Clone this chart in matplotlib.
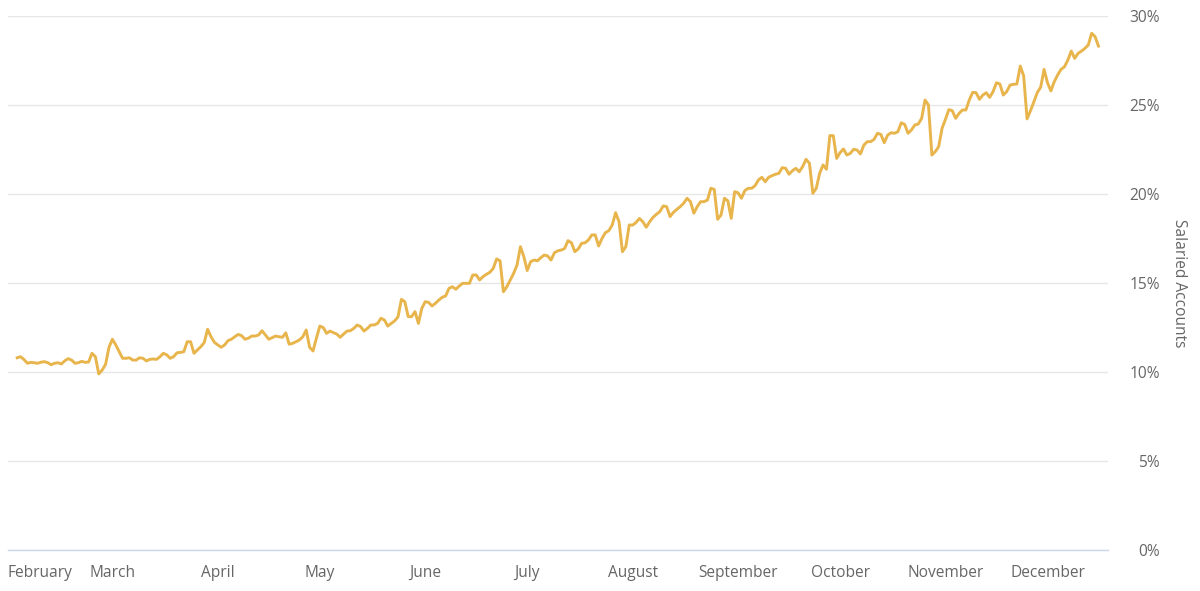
import matplotlib
matplotlib.use("Agg")
import matplotlib.pyplot as plt
import matplotlib.dates as mdates
import pandas as pd

start_date = "2021-02-01"

feb = [10.8, 10.86, 10.7, 10.49, 10.54, 10.52, 10.49, 10.55, 10.58, 10.52, 10.41, 10.49, 10.52, 10.45,
       10.63, 10.75, 10.67, 10.49, 10.52, 10.6, 10.54, 10.56, 11.05, 10.86, 9.89, 10.11, 10.43, 11.39]
mar = [11.84, 11.52, 11.14, 10.77, 10.77, 10.80, 10.67, 10.67, 10.8, 10.77, 10.62, 10.71, 10.73, 10.71,
       10.86, 11.05, 10.96, 10.77, 10.86, 11.08, 11.1, 11.14, 11.7, 11.7, 11.05, 11.24, 11.42, 11.65,
       12.4, 11.98, 11.67]
apr = [11.52, 11.39, 11.52, 11.76, 11.84, 11.98, 12.11, 12.04, 11.84, 11.9, 12.02, 12.02, 12.08, 12.32,
       12.08, 11.84, 11.93, 12.02, 11.98, 11.95, 12.2, 11.56, 11.61, 11.7, 11.8, 11.98, 12.36, 11.39,
       11.18, 11.9]
may = [12.58, 12.5, 12.17, 12.3, 12.21, 12.13, 11.95, 12.13, 12.3, 12.32, 12.45, 12.64, 12.55, 12.3,
       12.45, 12.64, 12.64, 12.73, 13.02, 12.92, 12.58, 12.73, 12.87, 13.1, 14.08, 13.95, 13.11, 13.11,
       13.39, 12.73, 13.58]
jun = [13.95, 13.91, 13.71, 13.86, 14.04, 14.2, 14.27, 14.7, 14.79, 14.65, 14.83, 14.98, 14.98, 14.98,
       15.45, 15.45, 15.17, 15.36, 15.49, 15.6, 15.82, 16.35, 16.25, 14.51, 14.79, 15.17, 15.54, 16.01,
       17.04, 16.48]
jul = [15.7, 16.2, 16.29, 16.25, 16.42, 16.57, 16.52, 16.29, 16.7, 16.81, 16.85, 16.94, 17.38, 17.26,
       16.76, 16.91, 17.23, 17.26, 17.42, 17.7, 17.7, 17.08, 17.51, 17.83, 17.94, 18.26, 18.95, 18.44,
       16.76, 17.04, 18.26]
aug = [18.25, 18.4, 18.63, 18.44, 18.13, 18.44, 18.69, 18.86, 19.01, 19.33, 19.29, 18.73, 18.97, 19.14,
       19.29, 19.48, 19.76, 19.57, 18.92, 19.29, 19.57, 19.57, 19.66, 20.32, 20.26, 18.58, 18.82, 19.76,
       19.62, 18.63, 20.13]
sep = [20.07, 19.76, 20.19, 20.32, 20.32, 20.47, 20.79, 20.94, 20.69, 20.94, 21.03, 21.11, 21.16, 21.48,
       21.44, 21.11, 21.31, 21.44, 21.25, 21.54, 21.95, 21.72, 20.04, 20.32, 21.16, 21.63, 21.39, 23.28,
       23.28, 22.0]
oct_ = [22.32, 22.53, 22.19, 22.28, 22.51, 22.47, 22.25, 22.75, 22.94, 22.94, 23.07, 23.41, 23.35, 22.88,
        23.31, 23.44, 23.41, 23.5, 24.0, 23.91, 23.41, 23.6, 23.88, 23.93, 24.25, 25.28, 25.0, 22.19,
        22.38, 22.66, 23.69]
nov = [24.2, 24.74, 24.68, 24.25, 24.53, 24.72, 24.72, 25.28, 25.71, 25.69, 25.32, 25.56, 25.69, 25.43,
       25.75, 26.25, 26.18, 25.56, 25.75, 26.12, 26.16, 26.18, 27.19, 26.63, 24.22, 24.68, 25.18, 25.7,
       26.0, 27.0]
dec = [26.25, 25.79, 26.31, 26.69, 27.0, 27.15, 27.53, 28.03, 27.62, 27.9, 28.03, 28.18, 28.37, 29.03,
       28.84, 28.31]

month_labels = ["February", "March", "April", "May", "June", "July", "August",
                "September", "October", "November", "December"]
y_ticks = [0, 5, 10, 15, 20, 25, 30]
y_title = "Salaried Accounts"

values = feb + mar + apr + may + jun + jul + aug + sep + oct_ + nov + dec
dates = pd.date_range(start_date, periods=len(values), freq="D")
month_starts = pd.date_range(start_date, periods=len(month_labels), freq="MS")
date_nums = mdates.date2num(dates.to_pydatetime())
tick_nums = mdates.date2num(month_starts.to_pydatetime())

plt.rcParams['font.family'] = ['Open Sans', 'DejaVu Sans']
text_color = '#666666'
fs = 11.2

fig = plt.figure(figsize=(12, 5.91), dpi=100)
ax = fig.add_axes([8 / 1200, 41 / 591, 1100 / 1200, 534 / 591])
ax.plot(date_nums, values, color='#e8b54c', lw=2.1, solid_joinstyle='round', zorder=3)

ax.set_ylim(0, 30)
ax.set_xlim(date_nums[0] - 2.7, date_nums[-1] + 2.8)

ax.yaxis.tick_right()
ax.set_yticks(y_ticks)
ax.set_yticklabels([f"{v}%" for v in y_ticks])
for lab in ax.get_yticklabels():
    lab.set_horizontalalignment('right')
ax.tick_params(axis='y', length=0, pad=37.5, labelcolor=text_color, labelsize=fs)
ax.grid(axis='y', color='#e6e6e6', lw=1)
ax.set_axisbelow(True)

for s in ['top', 'left', 'right']:
    ax.spines[s].set_visible(False)
ax.spines['bottom'].set_color('#ccd6eb')
ax.spines['bottom'].set_linewidth(1)

ax.set_xticks(tick_nums)
ax.set_xticklabels([''] + month_labels[1:])
ax.tick_params(axis='x', length=0, pad=10.5, labelcolor=text_color, labelsize=fs)
ax.annotate(month_labels[0], xy=(tick_nums[0], 0), xycoords=ax.get_xaxis_transform(),
            xytext=(-6.7, -10.5), textcoords='offset points', ha='left', va='top',
            color=text_color, fontsize=fs)

fig.text(1179 / 1200, 1 - 283 / 591, y_title, rotation=270, ha='center', va='center',
         color=text_color, fontsize=fs)

fig.savefig("out.png", dpi=100, facecolor='white')
